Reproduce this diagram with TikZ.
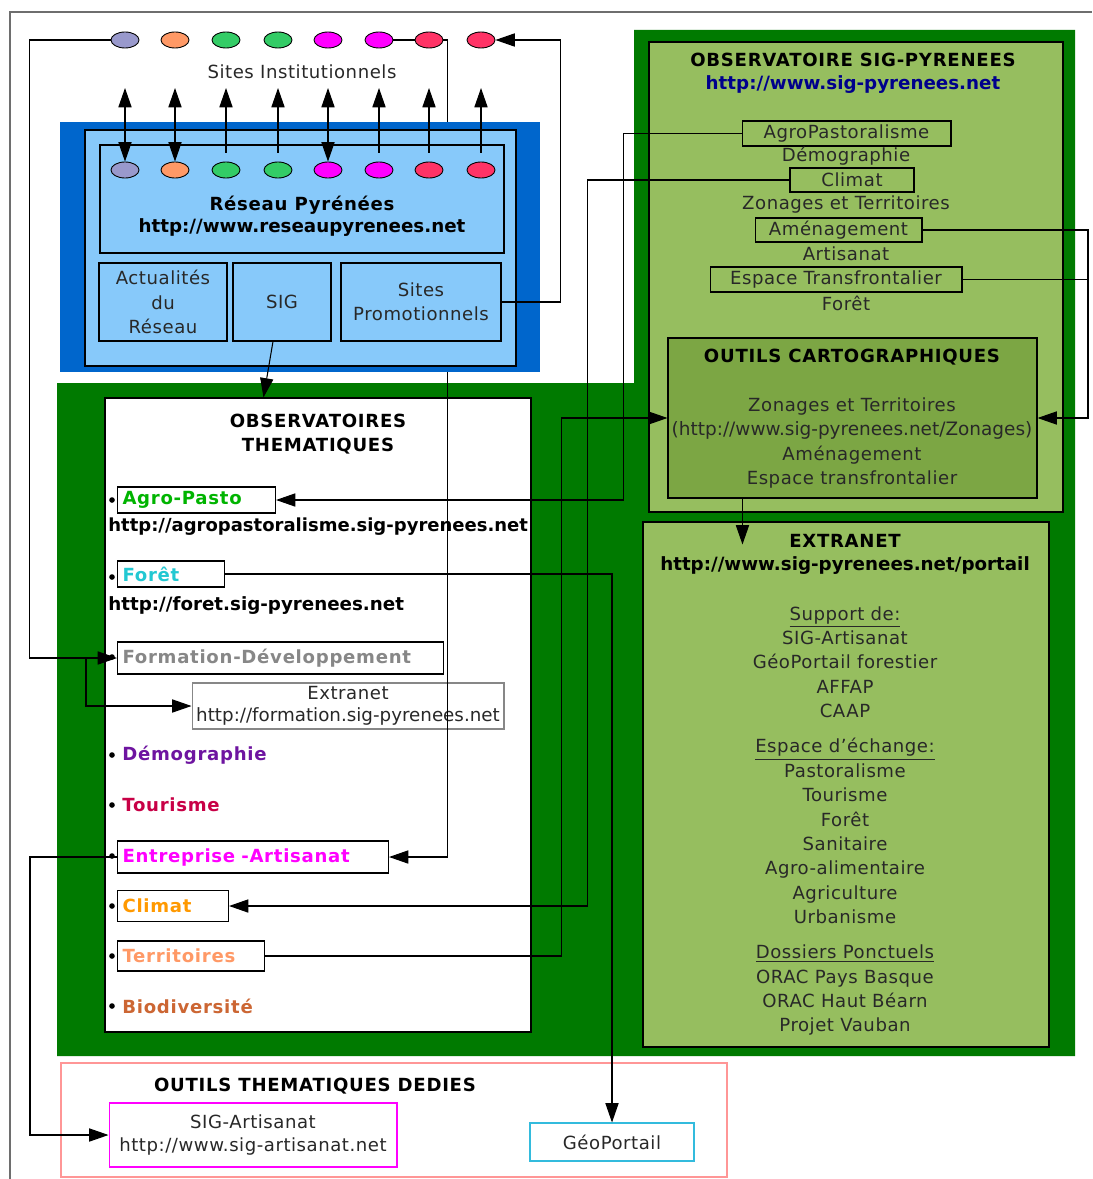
\documentclass[tikz,border=0pt]{standalone}
\usepackage{fontspec}
\setmainfont{DejaVu Sans}[LetterSpace=3, BoldFeatures={LetterSpace=4}]
\newfontfamily\urlfont{DejaVu Sans}
\usepackage{xcolor}
\usepackage{tikz}
\usetikzlibrary{shapes.geometric, arrows.meta, positioning, calc, fit}
\definecolor{myframe}{RGB}{110,110,110}
\definecolor{mytext}{RGB}{40,40,40}
\definecolor{mydkgreen}{RGB}{0,122,0}
\definecolor{mylgreen}{RGB}{150,190,95}
\definecolor{mymgreen}{RGB}{124,166,68}
\definecolor{mydkblue}{RGB}{0,102,204}
\definecolor{mysky}{RGB}{135,201,250}
\definecolor{mylink}{RGB}{0,0,140}
\definecolor{dotlav}{RGB}{153,153,204}
\definecolor{dotorange}{RGB}{255,153,102}
\definecolor{dotgreen}{RGB}{51,204,102}
\definecolor{dotmag}{RGB}{255,0,255}
\definecolor{dotred}{RGB}{255,51,102}
\definecolor{txtagro}{RGB}{0,180,0}
\definecolor{txtforet}{RGB}{34,200,210}
\definecolor{txtform}{RGB}{135,135,135}
\definecolor{txtdemo}{RGB}{110,20,160}
\definecolor{txttour}{RGB}{200,0,70}
\definecolor{txtentr}{RGB}{255,0,255}
\definecolor{txtclim}{RGB}{255,153,0}
\definecolor{txtterr}{RGB}{255,153,102}
\definecolor{txtbiod}{RGB}{204,102,51}
\definecolor{mypink}{RGB}{255,150,150}
\definecolor{mycyan}{RGB}{51,187,221}
\tikzset{
  txt/.style={font=\fontsize{10.3}{13.9}\selectfont, text=mytext, align=center, inner sep=0pt},
  hdr/.style={font=\fontsize{10.3}{14}\selectfont\bfseries, text=black, align=center, inner sep=0pt},
  urltxt/.style={font=\fontsize{10.4}{13}\selectfont\urlfont\bfseries, text=black, align=center, inner sep=0pt},
  panel/.style={inner sep=0pt, draw=black, line width=0.6pt},
  itembox/.style={draw=black, line width=0.6pt, anchor=west, inner xsep=0.1cm,
    inner ysep=0pt, align=left, font=\fontsize{10.3}{12}\selectfont\bfseries},
  itemtxt/.style={anchor=west, inner sep=0pt, font=\fontsize{10.3}{12}\selectfont\bfseries},
  bullet/.style={circle, fill=black, inner sep=0pt, minimum size=3.2pt},
  dot/.style={ellipse, draw=black, line width=0.5pt, inner sep=0pt,
    minimum width=0.56cm, minimum height=0.32cm},
  arrow/.style={-{Triangle[length=11pt,width=7.5pt]}, line width=0.6pt, color=black},
  biarrow/.style={{Triangle[length=11pt,width=7.5pt]}-{Triangle[length=11pt,width=7.5pt]},
    line width=0.6pt, color=black},
  line/.style={line width=0.6pt, color=black}
}
\begin{document}
\begin{tikzpicture}[x=0.02cm, y=-0.02cm]
  \useasboundingbox (0,0) rectangle (1092,1179);
  \draw[myframe, line width=0.8pt] (10,1179) -- (10,12) -- (1092,12);
  \fill[mydkgreen] (57,383) -- (634,383) -- (634,30) -- (1075,30) -- (1075,1056) -- (57,1056) -- cycle;

  % observatoire sig-pyrenees
  \node[panel, fill=mylgreen, fit={(649,42) (1063,512)}] (sigpyr) {};
  \node[hdr] (sigpyrtitle) at (853,60) {OBSERVATOIRE SIG-PYRENEES};
  \node[urltxt, text=mylink] (sigpyrurl) at (853,85) {http://www.sig-pyrenees.net};
  \node[panel, txt, minimum width=4.18cm, minimum height=0.5cm] (lagro) at (846.5,133.5) {AgroPastoralisme};
  \node[txt] (ldemog) at (846,156) {Démographie};
  \node[panel, txt, minimum width=2.48cm, minimum height=0.48cm] (lclimat) at (852,180) {Climat};
  \node[txt] (lzonages) at (846,205) {Zonages et Territoires};
  \node[panel, txt, minimum width=3.34cm, minimum height=0.48cm] (lamenag) at (838.5,230) {Aménagement};
  \node[txt] (lartisanat) at (846,254) {Artisanat};
  \node[panel, txt, minimum width=5.04cm, minimum height=0.5cm] (ltransfront) at (836,279.5) {Espace Transfrontalier};
  \node[txt] (lforet) at (846,303) {Forêt};

  \node[panel, fill=mymgreen, fit={(668,338) (1037,498)}] (outils) {};
  \node[hdr] (outilstitle) at (852,357) {OUTILS CARTOGRAPHIQUES};
  \node[txt] (outilstxt) at (852,443) {Zonages et Territoires\\{\urlfont\fontsize{10.5}{13.9}\selectfont(http://www.sig-pyrenees.net/Zonages)}\\Aménagement\\Espace transfrontalier};

  \node[panel, fill=mylgreen, fit={(643,522) (1049,1047)}] (extranet) {};
  \node[hdr] (extranettitle) at (845,541) {EXTRANET};
  \node[urltxt] (extraneturl) at (845,566) {http://www.sig-pyrenees.net/portail};
  \node[txt] (extranetlist) at (845,821) {\underline{Support de:}\\SIG-Artisanat\\GéoPortail forestier\\AFFAP\\CAAP\\[6pt]\underline{Espace d'échange:}\\Pastoralisme\\Tourisme\\Forêt\\Sanitaire\\Agro-alimentaire\\Agriculture\\Urbanisme\\[6pt]\underline{Dossiers Ponctuels}\\ORAC Pays Basque\\ORAC Haut Béarn\\Projet Vauban};

  % observatoires thematiques
  \node[panel, fill=white, fit={(105,398) (531,1032)}] (obsthem) {};
  \node[hdr] (obsthemtitle) at (318,434) {OBSERVATOIRES\\THEMATIQUES};
  \foreach \n/\y in {1/500, 2/577, 3/657, 4/755, 5/805, 6/856, 7/906, 8/956, 9/1006}
    \node[bullet] (b\n) at (112,\y) {};
  \node[itembox, text width=2.96cm, minimum height=0.52cm, text=txtagro] (agropasto) at (117,500) {Agro-Pasto};
  \node[urltxt, anchor=west, font=\fontsize{10.25}{12}\selectfont\urlfont\bfseries] (urlagro) at (108,527) {http://agropastoralisme.sig-pyrenees.net};
  \node[itembox, text width=1.94cm, minimum height=0.52cm, text=txtforet] (foretbox) at (117,574) {Forêt};
  \node[urltxt, anchor=west] (urlforet) at (108,606) {http://foret.sig-pyrenees.net};
  \node[itembox, text width=6.32cm, minimum height=0.64cm, text=txtform] (formation) at (117,658) {Formation-Développement};
  \node[panel, draw=txtform, txt, font=\fontsize{10.3}{12.5}\selectfont, minimum width=6.24cm, minimum height=0.92cm] (formext) at (348,706) {Extranet\\{\urlfont\fontsize{10.4}{12.5}\selectfont http://formation.sig-pyrenees.net}};
  \node[itemtxt, text=txtdemo] (demog) at (122,755) {Démographie};
  \node[itemtxt, text=txttour] (tourisme) at (122,805) {Tourisme};
  \node[itembox, text width=5.22cm, minimum height=0.64cm, text=txtentr] (entreprise) at (117,857) {Entreprise -Artisanat};
  \node[itembox, text width=2.02cm, minimum height=0.62cm, text=txtclim] (climatbox) at (117,906) {Climat};
  \node[itembox, text width=2.74cm, minimum height=0.6cm, text=txtterr] (territoires) at (117,956) {Territoires};
  \node[itemtxt, text=txtbiod] (biodiv) at (122,1006) {Biodiversité};

  % outils thematiques dedies
  \node[inner sep=0pt, draw=mypink, line width=0.6pt, fill=white, fit={(61,1063) (727,1177)}] (dedies) {};
  \node[hdr] (dediestitle) at (315,1086) {OUTILS THEMATIQUES DEDIES};
  \node[panel, draw=dotmag, txt, font=\fontsize{10.3}{13.5}\selectfont, minimum width=5.76cm, minimum height=1.28cm] (sigart) at (253,1135) {SIG-Artisanat\\http://www.sig-artisanat.net};
  \node[panel, draw=mycyan, txt, minimum width=3.28cm, minimum height=0.76cm] (geoportail) at (612,1142) {GéoPortail};

  % sites institutionnels
  \foreach \i/\x/\c in {1/125/dotlav, 2/175/dotorange, 3/226/dotgreen, 4/278/dotgreen,
      5/328/dotmag, 6/379/dotmag, 7/429/dotred, 8/481/dotred} {
    \node[dot, fill=\c] (t\i) at (\x,40) {};
    \coordinate (up\i) at (\x,88);
  }
  \node[txt] (sitesinst) at (302,72) {Sites Institutionnels};
  \draw[arrow] (t7.east) -- ++(4,0) |- (entreprise.east);

  % reseau pyrenees
  \node[inner sep=0pt, fill=mydkblue, fit={(60,122) (540,372)}] (reseauouter) {};
  \node[panel, fill=mysky, fit={(85,130) (516,366)}] (reseau) {};
  \node[panel, fit={(100,145) (504,253)}] (portail) {};
  \foreach \i/\x/\c in {1/125/dotlav, 2/175/dotorange, 3/226/dotgreen, 4/278/dotgreen,
      5/328/dotmag, 6/379/dotmag, 7/429/dotred, 8/481/dotred}
    \node[dot, fill=\c] (r\i) at (\x,170) {};
  \node[hdr] (portailtitle) at (302,205) {Réseau Pyrénées};
  \node[urltxt] (portailurl) at (302,228) {http://www.reseaupyrenees.net};
  \node[panel, txt, minimum width=2.56cm, minimum height=1.56cm] (actu) at (163,302) {Actualités\\du\\Réseau};
  \node[panel, txt, minimum width=1.96cm, minimum height=1.56cm] (sig) at (282,302) {SIG};
  \node[panel, txt, minimum width=3.2cm, minimum height=1.56cm] (promo) at (421,302) {Sites\\Promotionnels};

  \foreach \i in {1,2,5}
    \draw[biarrow] (up\i) -- (r\i.north);
  \foreach \i in {3,4,6,7,8}
    \draw[arrow] ([yshift=5pt]r\i.north) -- (up\i);
  \draw[line] (t6.east) -- (t7.west);
  \draw[arrow] (promo.east) -- ++(59,0) |- (t8.east);
  \draw[arrow] ($(sig.south)+(-9,0)$) -- ($(obsthem.north west)+(159,0)$);

  \coordinate (fdsplit) at (86,658);
  \coordinate (rbus) at (1088,418);
  \draw[arrow] (t1.west) -- ++(-81,0) |- (formation.west);
  \draw[arrow] (fdsplit) |- (formext.west);
  \draw[arrow] (lagro.west) -- ++(-118,0) |- (agropasto.east);
  \draw[arrow] (lclimat.west) -- ++(-202,0) |- (climatbox.east);
  \draw[arrow] (lamenag.east) -| (rbus) -- (outils.east);
  \draw[line] (ltransfront.east) -- (ltransfront.east -| rbus);
  \draw[arrow] (territoires.east) -- ++(296,0) |- (outils.west);
  \draw[arrow] (foretbox.east) -| (geoportail.north);
  \draw[arrow] ($(outils.south west)+(75,0)$) -- ($(extranet.north west)+(100,23)$);
  \draw[arrow] (entreprise.west) -- ++(-87,0) |- (sigart.west);
\end{tikzpicture}
\end{document}
